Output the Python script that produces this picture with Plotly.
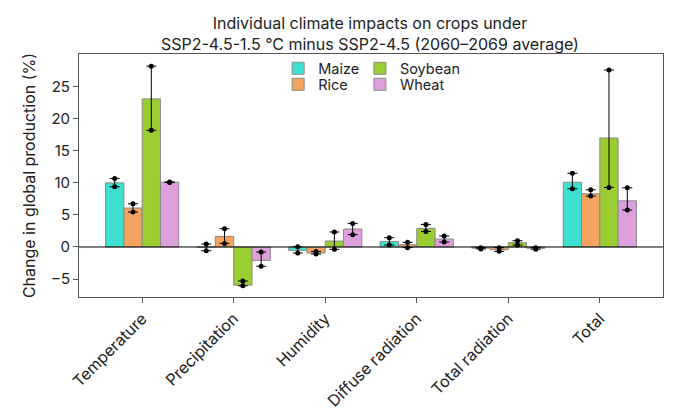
import plotly.graph_objects as go

categories = ["Temperature", "Precipitation", "Humidity", "Diffuse radiation",
              "Total radiation", "Total"]
crops = ["Maize", "Rice", "Soybean", "Wheat"]
colors = ["#40E0D0", "#F4A460", "#9ACD32", "#DDA0DD"]

# bar value, and the two model estimates shown as dots (low, high)
maize = [10.0, -0.05, -0.52, 0.87, -0.18, 10.1]
maize_lo = [9.4, -0.58, -0.94, 0.31, -0.3, 9.08]
maize_hi = [10.7, 0.46, 0.05, 1.45, -0.1, 11.5]

rice = [6.07, 1.65, -0.94, 0.36, -0.42, 8.3]
rice_lo = [5.45, 0.56, -1.1, -0.1, -0.68, 7.94]
rice_hi = [6.74, 2.85, -0.7, 0.72, -0.1, 8.92]

soybean = [23.1, -5.95, 0.93, 2.9, 0.67, 17.0]
soybean_lo = [18.2, -6.05, -0.37, 2.43, 0.31, 9.29]
soybean_hi = [28.2, -5.3, 2.34, 3.52, 0.98, 27.6]

wheat = [10.1, -2.08, 2.8, 1.24, -0.2, 7.2]
wheat_lo = [10.05, -3.0, 1.92, 0.78, -0.35, 5.76]
wheat_hi = [10.15, -0.78, 3.68, 1.71, -0.1, 9.24]

series = [(maize, maize_lo, maize_hi), (rice, rice_lo, rice_hi),
          (soybean, soybean_lo, soybean_hi), (wheat, wheat_lo, wheat_hi)]

# one small legend box per crop, laid out in two columns like the original
legend_names = ["legend", "legend2", "legend3", "legend4"]
legend_pos = [(0.341, 0.941), (0.341, 0.875), (0.481, 0.941), (0.481, 0.875)]

bar_w = 0.2
fig = go.Figure()
for j, (name, col, (val, lo, hi)) in enumerate(zip(crops, colors, series)):
    x = [i + (j - 1.5) * bar_w for i in range(len(categories))]
    fig.add_trace(go.Bar(
        x=x, y=val, width=bar_w, name=name,
        marker=dict(color=col, line=dict(color="#8a8a8a", width=1)),
        error_y=dict(type="data", symmetric=False,
                     array=[h - v for h, v in zip(hi, val)],
                     arrayminus=[v - l for v, l in zip(val, lo)],
                     color="black", thickness=1, width=5),
        legend=legend_names[j],
    ))
    fig.add_trace(go.Scatter(
        x=x + x, y=lo + hi, mode="markers", showlegend=False,
        marker=dict(color="black", size=5), hoverinfo="skip",
    ))

fig.add_hline(y=0, line=dict(color="black", width=1))

axis_common = dict(showline=True, linecolor="#555555", linewidth=1, mirror=True,
                   ticks="outside", ticklen=5, tickcolor="#555555",
                   showgrid=False, zeroline=False, automargin=False)

legends = {}
for key, (lx, ly) in zip(legend_names, legend_pos):
    legends[key] = dict(x=lx, y=ly, xanchor="left", yanchor="middle",
                        bgcolor="rgba(0,0,0,0)", font=dict(size=14.5),
                        itemwidth=30)

# page body adds an 8px margin, so the figure is sized a little smaller
fig.update_layout(
    width=674, height=404,
    margin=dict(l=71, r=19, t=46, b=115),
    paper_bgcolor="white", plot_bgcolor="white",
    font=dict(family="Inter, Roboto, sans-serif", color="#222222"),
    title=dict(text="Individual climate impacts on crops under<br>"
                    "SSP2-4.5-1.5 °C minus SSP2-4.5 (2060–2069 average)",
               x=0.537, xanchor="center", yref="container", y=0.948,
               yanchor="middle", font=dict(size=16)),
    barmode="overlay",
    xaxis=dict(range=[-0.69, 5.69], tickvals=list(range(len(categories))),
               ticktext=categories, tickangle=-45,
               tickfont=dict(size=16, color="#222222"), **axis_common),
    yaxis=dict(range=[-7.8, 30.1], tickvals=[-5, 0, 5, 10, 15, 20, 25],
               tickfont=dict(size=15, color="#222222"),
               title=dict(text="Change in global production (%)",
                          font=dict(size=16), standoff=11),
               **axis_common),
    **legends,
)

fig.write_html("out.html")
